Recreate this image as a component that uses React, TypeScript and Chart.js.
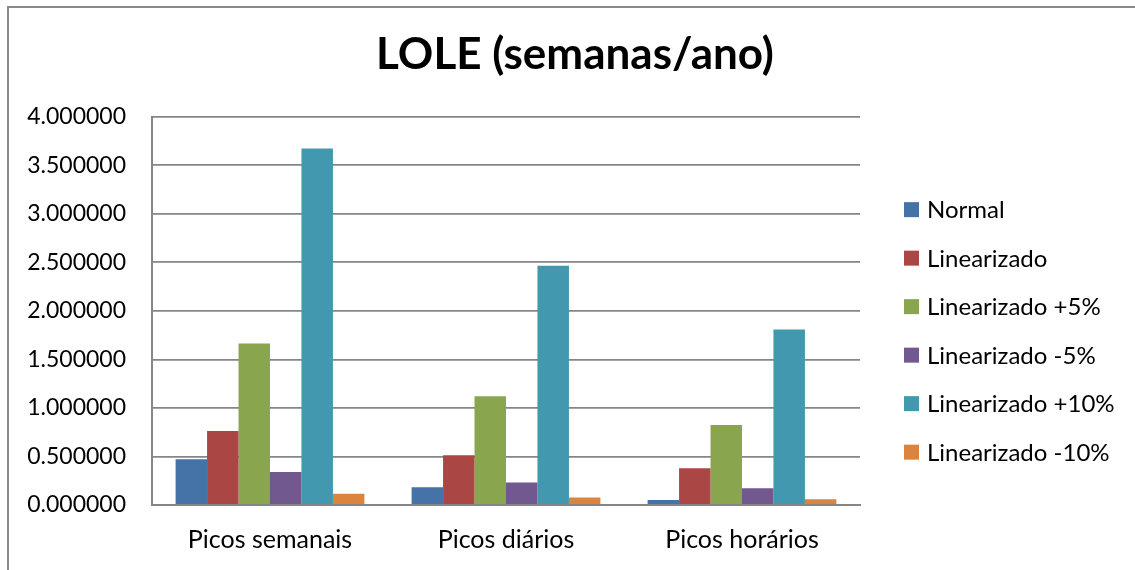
import React, { useEffect, useRef } from 'react';
import { Chart, registerables } from 'chart.js';

Chart.register(...registerables);

const categories = ['Picos semanais', 'Picos diários', 'Picos horários'];
const seriesLabels = [
  'Normal',
  'Linearizado',
  'Linearizado +5%',
  'Linearizado -5%',
  'Linearizado +10%',
  'Linearizado -10%',
];
const normal = [0.471, 0.182, 0.052];
const linearizado = [0.763, 0.512, 0.378];
const linearizadoMais5 = [1.664, 1.12, 0.825];
const linearizadoMenos5 = [0.34, 0.231, 0.172];
const linearizadoMais10 = [3.674, 2.464, 1.808];
const linearizadoMenos10 = [0.117, 0.076, 0.059];
const seriesValues = [
  normal,
  linearizado,
  linearizadoMais5,
  linearizadoMenos5,
  linearizadoMais10,
  linearizadoMenos10,
];
const seriesColors = ['#4572A7', '#AA4643', '#89A54E', '#71588F', '#4198AF', '#DB843D'];
const yMin = 0;
const yMax = 4;
const yStep = 0.5;
const titleText = 'LOLE (semanas/ano)';

const FONT = "Lato, 'Open Sans', sans-serif";

const sideLegend = {
  id: 'sideLegend',
  afterDraw(chart: any) {
    const { ctx, chartArea } = chart;
    const ds = chart.data.datasets;
    const n = ds.length;
    const rowGap = 48.5;
    const x0 = chartArea.right + 44;
    const midY = (chartArea.top + chartArea.bottom) / 2 + 20;
    const startY = midY - ((n - 1) * rowGap) / 2;
    ctx.save();
    ctx.font = `24px ${FONT}`;
    ctx.textBaseline = 'middle';
    ctx.textAlign = 'left';
    ds.forEach((d: any, i: number) => {
      const y = startY + i * rowGap;
      ctx.fillStyle = d.backgroundColor;
      ctx.fillRect(x0, y - 7.5, 15, 15);
      ctx.fillStyle = '#000';
      ctx.fillText(d.label, x0 + 23, y + 1);
    });
    ctx.restore();
  },
};

export default function App() {
  const ref = useRef<HTMLCanvasElement>(null);

  useEffect(() => {
    if (!ref.current) return;
    const chart = new Chart(ref.current, {
      type: 'bar',
      data: {
        labels: categories,
        datasets: seriesLabels.map((label, i) => ({
          label,
          data: seriesValues[i],
          backgroundColor: seriesColors[i],
          borderWidth: 0,
          categoryPercentage: 0.8,
          barPercentage: 1.0,
        })),
      },
      options: {
        responsive: false,
        animation: false,
        layout: { padding: { left: 15, right: 0, top: 0, bottom: 0 } },
        plugins: {
          legend: { display: false },
          tooltip: { enabled: false },
          title: {
            display: true,
            text: titleText,
            color: '#000',
            font: { family: FONT, size: 44, weight: 'bold' },
            padding: { top: 28, bottom: 36 },
          },
        },
        scales: {
          x: {
            grid: { display: false, drawTicks: false },
            border: { display: true, color: '#868686', width: 2 },
            ticks: {
              color: '#000',
              font: { family: FONT, size: 25 },
              padding: 20,
            },
            afterFit: (s: any) => {
              s.height = 65;
            },
          },
          y: {
            min: yMin,
            max: yMax,
            grid: { color: '#868686', lineWidth: 1.8, drawTicks: false },
            border: { display: true, color: '#868686', width: 2 },
            ticks: {
              stepSize: yStep,
              color: '#000',
              font: { family: FONT, size: 23 },
              padding: 26,
              callback: (v: any) => Number(v).toFixed(6),
            },
            afterFit: (s: any) => {
              s.width = 137;
            },
          },
          spacer: {
            type: 'linear',
            position: 'right',
            display: true,
            grid: { display: false, drawTicks: false },
            border: { display: false },
            ticks: { display: false },
            afterFit: (s: any) => {
              s.width = 275;
            },
          },
        },
      } as any,
      plugins: [sideLegend],
    });
    return () => chart.destroy();
  }, []);

  return (
    <div
      style={{
        position: 'fixed',
        left: 0,
        top: 0,
        width: 1135,
        height: 570,
        background: '#fff',
        overflow: 'hidden',
      }}
    >
      <div
        style={{
          position: 'absolute',
          left: 7,
          top: 6,
          width: 1300,
          height: 800,
          borderLeft: '2px solid #8a8a8a',
          borderTop: '2px solid #8a8a8a',
        }}
      />
      <canvas
        ref={ref}
        width={1135}
        height={570}
        style={{ position: 'absolute', left: 0, top: 0, width: 1135, height: 570 }}
      />
    </div>
  );
}
